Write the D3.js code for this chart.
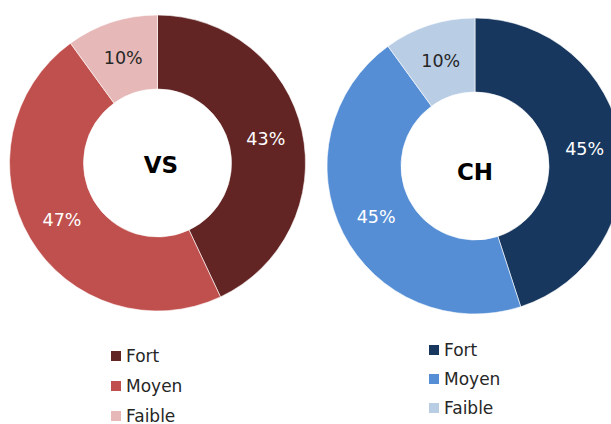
<!DOCTYPE html>
<html><head><meta charset="utf-8">
<script src="https://cdn.jsdelivr.net/npm/d3@7"></script>
<style>body{margin:0;background:#fff;}svg{display:block;}</style>
</head><body>
<svg id="c" width="611" height="424"></svg>
<script>
const categories = ["Fort", "Moyen", "Faible"];
const vsValues = [43, 47, 10];
const chValues = [45, 45, 10];
const titles = ["VS", "CH"];
const vsColors = ["#632523", "#C0504D", "#E6B9B8"];
const chColors = ["#17375E", "#558ED5", "#B9CDE5"];
const labelColors = ["#fff", "#fff", "#262626"];

const svg = d3.select("#c");
const font = "'DejaVu Sans', Verdana, sans-serif";

const charts = [
  {title: titles[0], values: vsValues, colors: vsColors, cx: 157.5, cy: 163, ty: 173, tx: 161,
   legX: 111, legY: 351, legStep: 30},
  {title: titles[1], values: chValues, colors: chColors, cx: 475, cy: 166, ty: 180, tx: 475,
   legX: 429, legY: 345, legStep: 29}
];

const outerR = 148, innerR = 74;
const pie = d3.pie().sort(null).value(d => d);
const arc = d3.arc().innerRadius(innerR).outerRadius(outerR);

charts.forEach(ch => {
  const g = svg.append("g").attr("transform", `translate(${ch.cx},${ch.cy})`);
  const arcs = pie(ch.values);
  g.selectAll("path").data(arcs).join("path")
    .attr("d", arc)
    .attr("fill", (d, i) => ch.colors[i])
    .attr("stroke", "#fff").attr("stroke-width", 0.6);
  g.selectAll("text.lbl").data(arcs).join("text")
    .attr("class", "lbl")
    .attr("transform", d => `translate(${arc.centroid(d)})`)
    .attr("text-anchor", "middle")
    .attr("dy", "0.36em")
    .attr("font-family", font).attr("font-size", 17.5)
    .attr("fill", (d, i) => labelColors[i])
    .text(d => d.data + "%");
  svg.append("text")
    .attr("x", ch.tx).attr("y", ch.ty)
    .attr("text-anchor", "middle")
    .attr("font-family", font).attr("font-size", 23).attr("font-weight", "bold")
    .attr("fill", "#000")
    .text(ch.title);
  const leg = svg.append("g");
  categories.forEach((c, i) => {
    const y = ch.legY + i * ch.legStep;
    leg.append("rect").attr("x", ch.legX).attr("y", y).attr("width", 10).attr("height", 10)
      .attr("fill", ch.colors[i]);
    leg.append("text").attr("x", ch.legX + 15).attr("y", y + 10.5)
      .attr("font-family", font).attr("font-size", 17).attr("fill", "#262626")
      .text(c);
  });
});
</script>
</body></html>
